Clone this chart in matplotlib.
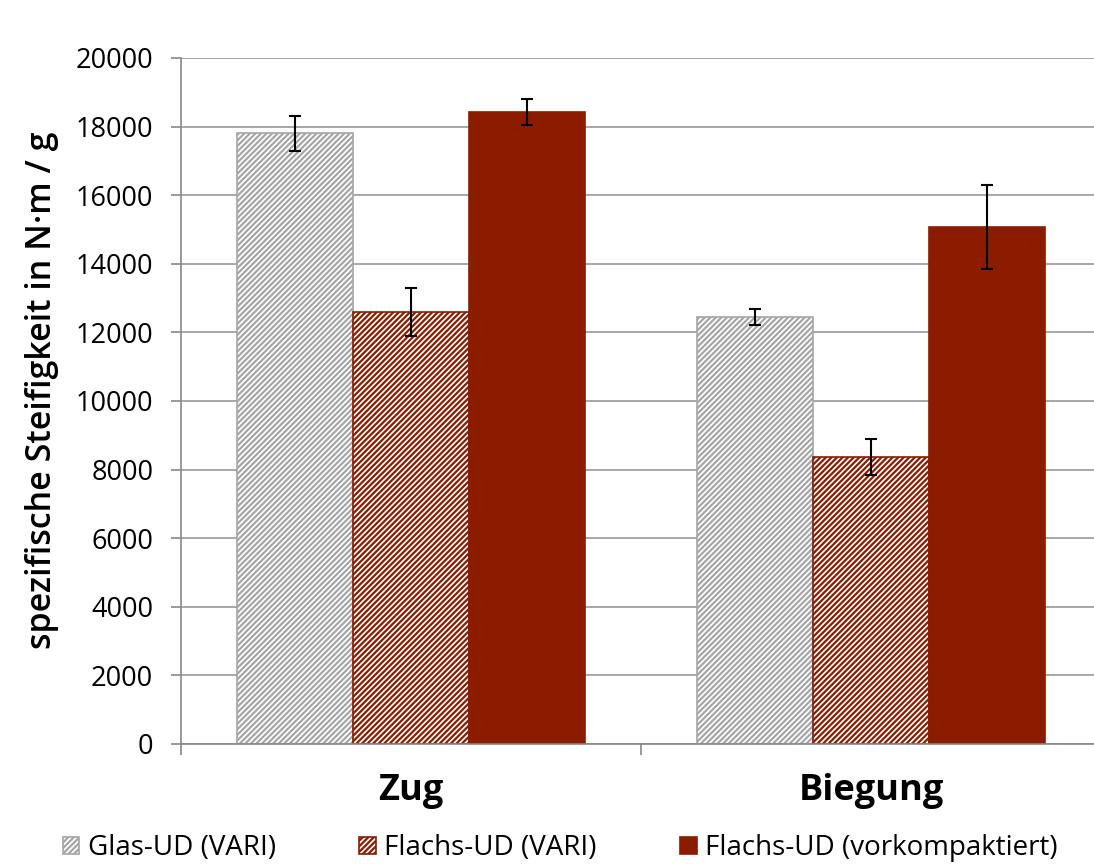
import matplotlib
matplotlib.use("Agg")
import matplotlib.pyplot as plt
import numpy as np

categories = ["Zug", "Biegung"]
series = ["Glas-UD (VARI)", "Flachs-UD (VARI)", "Flachs-UD (vorkompaktiert)"]
values = {
    "Glas-UD (VARI)": [17800, 12450],
    "Flachs-UD (VARI)": [12600, 8370],
    "Flachs-UD (vorkompaktiert)": [18430, 15080],
}
errors = {
    "Glas-UD (VARI)": [510, 230],
    "Flachs-UD (VARI)": [700, 520],
    "Flachs-UD (vorkompaktiert)": [380, 1220],
}
yticks = [0, 2000, 4000, 6000, 8000, 10000, 12000, 14000, 16000, 18000, 20000]

plt.rcParams['font.family'] = ['Open Sans', 'DejaVu Sans']
plt.rcParams['hatch.linewidth'] = 1.6

red = "#8B1C00"
grey = "#A6A6A6"
styles = [
    dict(facecolor="white", edgecolor=grey, hatch="//////"),
    dict(facecolor="white", edgecolor=red, hatch="//////"),
    dict(facecolor=red, edgecolor=red, hatch=None),
]

fig = plt.figure(figsize=(10.94, 8.64), dpi=100)
ax = fig.add_axes([181/1094, 120/864, 920/1094, 686/864])

x = np.arange(len(categories))
w = 0.252
for i, s in enumerate(series):
    pos = x + (i - 1) * w
    ax.bar(pos, values[s], width=w, linewidth=1.2, zorder=2, label=s, **styles[i])
    ax.errorbar(pos, values[s], yerr=errors[s], fmt="none", ecolor="black",
                elinewidth=1.5, capsize=4.5, capthick=1.5, zorder=3)

ax.set_xlim(-0.5, 1.5)
ax.set_ylim(0, 20000)
ax.set_yticks(yticks)
ax.set_yticklabels([str(t) for t in yticks], fontsize=19.5)
ax.yaxis.grid(True, color="#A0A0A0", linewidth=1.3, zorder=0)
ax.set_axisbelow(True)
ax.tick_params(axis="y", length=7, width=1.2, color="#888888", pad=13)

ax.set_xticks([0, 1])
ax.set_xticklabels(categories, fontsize=26, fontweight="bold")
ax.set_xticks([-0.5, 0.5, 1.5], minor=True)
ax.tick_params(axis="x", which="major", length=0, pad=21)
ax.tick_params(axis="x", which="minor", length=8, width=1.2, color="#888888")

for sp in ["top", "right"]:
    ax.spines[sp].set_visible(False)
ax.spines["left"].set_color("#888888")
ax.spines["bottom"].set_color("#888888")
ax.spines["left"].set_linewidth(1.2)
ax.spines["bottom"].set_linewidth(1.2)

fig.text(42/1094, 474/864, "spezifische Steifigkeit in N·m / g", rotation=90,
         ha="center", va="center", fontsize=24.5, fontweight="semibold")

ax.legend(loc="center", bbox_to_anchor=(0.412, -0.152), ncol=3, frameon=False,
          fontsize=20, handlelength=0.6, handleheight=0.6, handletextpad=0.3,
          columnspacing=3.0)

fig.savefig("out.png", dpi=100)
